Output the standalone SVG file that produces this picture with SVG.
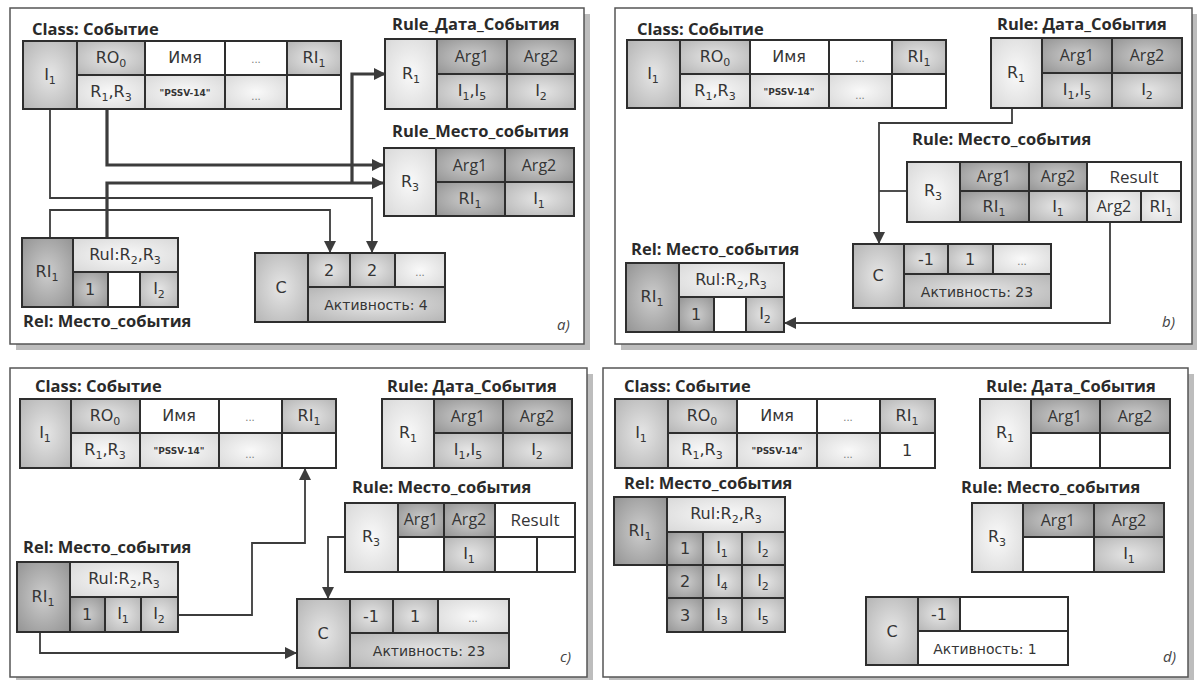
<svg xmlns="http://www.w3.org/2000/svg" width="1197" height="680" viewBox="0 0 1197 680">
<defs>
<radialGradient id="gD" cx="50%" cy="50%" r="70%"><stop offset="0" stop-color="#cdcdcd"/><stop offset="1" stop-color="#939393"/></radialGradient>
<radialGradient id="gM" cx="50%" cy="50%" r="70%"><stop offset="0" stop-color="#e6e6e6"/><stop offset="1" stop-color="#b4b4b4"/></radialGradient>
<radialGradient id="gL" cx="50%" cy="50%" r="70%"><stop offset="0" stop-color="#f9f9f9"/><stop offset="1" stop-color="#d8d8d8"/></radialGradient>
<marker id="ar" markerUnits="userSpaceOnUse" markerWidth="12" markerHeight="12" refX="11" refY="6" orient="auto"><path d="M0,0 L12,6 L0,12 z" fill="#3c3c3c"/></marker>
<style>
.pn{fill:#fff;stroke:#555;stroke-width:1.5}
.sh{fill:#bdbdbd}
.k{stroke:#2e2e2e;stroke-width:2}
.w{fill:#fff}.d{fill:url(#gD)}.m{fill:url(#gM)}.l{fill:url(#gL)}
text{font-family:"DejaVu Sans","Liberation Sans",sans-serif;fill:#353535}
.t{font-size:16px;text-anchor:middle}
.g{font-family:"Open Sans","Liberation Sans",sans-serif;font-size:16px;text-anchor:middle}
.s{font-size:11px}
.p{font-size:9px;font-weight:bold;text-anchor:middle}
.e{font-size:10px;text-anchor:middle;fill:#777}
.h{font-family:"Open Sans","Liberation Sans",sans-serif;font-size:16.5px;font-weight:bold;fill:#2a2a2a}
.q{font-family:"Open Sans","Liberation Sans",sans-serif;font-size:15px;font-style:italic;fill:#444}
.ac{font-size:14px}
.rs{font-family:"Open Sans","Liberation Sans",sans-serif;font-size:17px}
.cn path{fill:none;stroke:#3c3c3c}
.cn .tk{stroke-width:3.2}
.cn .tn{stroke-width:1.8}
</style>
</defs>
<rect width="1197" height="680" fill="#fff"/>

<!-- panel frames -->
<g id="frames">
<rect class="sh" x="16" y="14" width="574" height="336"/>
<rect class="pn" x="10" y="8" width="574" height="336"/>
<rect class="sh" x="621" y="14" width="577" height="336"/>
<rect class="pn" x="615" y="8" width="577" height="336"/>
<rect class="sh" x="16" y="374" width="577" height="309"/>
<rect class="pn" x="10" y="368" width="577" height="309"/>
<rect class="sh" x="609" y="374" width="585" height="309"/>
<rect class="pn" x="603" y="368" width="585" height="309"/>
</g>

<!-- connectors -->
<g id="connectors" class="cn">
<path class="tk" d="M107,109 V165 H383" marker-end="url(#ar)"/>
<path class="tk" d="M107,238 V183 H383" marker-end="url(#ar)"/>
<path class="tk" d="M352,183 V74 H385" marker-end="url(#ar)"/>
<path class="tn" d="M50,109 V198 H372 V252" marker-end="url(#ar)"/>
<path class="tn" d="M50,238 V210 H330 V252" marker-end="url(#ar)"/>
<path class="tn" d="M1012,108 V123 H879 V243" marker-end="url(#ar)"/>
<path class="tn" d="M907,191 H879"/>
<path class="tn" d="M1110,222 V323 H785" marker-end="url(#ar)"/>
<path class="tn" d="M178,615 H252 V543 H305 V469" marker-end="url(#ar)"/>
<path class="tn" d="M345,537 H328 V598" marker-end="url(#ar)"/>
<path class="tn" d="M40,632 V653 H296" marker-end="url(#ar)"/>
</g>

<!-- ===== Panel a ===== -->
<g id="a-class">
<text class="h" x="32" y="35">Class: Событие</text>
<rect class="k m" x="23" y="41" width="54" height="68"/>
<rect class="k m" x="77" y="41" width="68" height="34"/>
<rect class="k w" x="145" y="41" width="80" height="34"/>
<rect class="k w" x="225" y="41" width="62" height="34"/>
<rect class="k m" x="287" y="41" width="54" height="34"/>
<rect class="k l" x="77" y="75" width="68" height="34"/>
<rect class="k l" x="145" y="75" width="80" height="34"/>
<rect class="k l" x="225" y="75" width="62" height="34"/>
<rect class="k w" x="287" y="75" width="54" height="34"/>
<text class="t" x="50" y="80">I<tspan class="s" dy="4">1</tspan></text>
<text class="t" x="111" y="63">RO<tspan class="s" dy="4">0</tspan></text>
<text class="t" x="185" y="63">Имя</text>
<text class="e" x="256" y="63">...</text>
<text class="t" x="314" y="63">RI<tspan class="s" dy="4">1</tspan></text>
<text class="t" x="111" y="97">R<tspan class="s" dy="4">1</tspan><tspan dy="-4">,R</tspan><tspan class="s" dy="4">3</tspan></text>
<text class="p" x="185" y="96">"PSSV-14"</text>
<text class="e" x="256" y="100">...</text>
</g>
<g id="a-rule1">
<text class="h" x="392" y="30">Rule_Дата_События</text>
<rect class="k l" x="385" y="39" width="52" height="70"/>
<rect class="k d" x="437" y="39" width="70" height="35"/>
<rect class="k d" x="507" y="39" width="68" height="35"/>
<rect class="k m" x="437" y="74" width="70" height="35"/>
<rect class="k m" x="507" y="74" width="68" height="35"/>
<text class="t" x="411" y="79">R<tspan class="s" dy="4">1</tspan></text>
<text class="g" x="472" y="62">Arg1</text>
<text class="g" x="541" y="62">Arg2</text>
<text class="t" x="472" y="96">I<tspan class="s" dy="4">1</tspan><tspan dy="-4">,I</tspan><tspan class="s" dy="4">5</tspan></text>
<text class="t" x="541" y="96">I<tspan class="s" dy="4">2</tspan></text>
</g>
<g id="a-rule3">
<text class="h" x="392" y="137">Rule_Место_события</text>
<rect class="k l" x="384" y="148" width="52" height="68"/>
<rect class="k d" x="436" y="148" width="69" height="34"/>
<rect class="k d" x="505" y="148" width="69" height="34"/>
<rect class="k d" x="436" y="182" width="69" height="34"/>
<rect class="k m" x="505" y="182" width="69" height="34"/>
<text class="t" x="410" y="187">R<tspan class="s" dy="4">3</tspan></text>
<text class="g" x="470" y="171">Arg1</text>
<text class="g" x="539" y="171">Arg2</text>
<text class="t" x="470" y="204">RI<tspan class="s" dy="4">1</tspan></text>
<text class="t" x="539" y="204">I<tspan class="s" dy="4">1</tspan></text>
</g>
<g id="a-rel">
<rect class="k d" x="22" y="238" width="51" height="69"/>
<rect class="k l" x="73" y="238" width="105" height="34"/>
<rect class="k d" x="73" y="272" width="35" height="35"/>
<rect class="k w" x="108" y="272" width="32" height="35"/>
<rect class="k m" x="140" y="272" width="38" height="35"/>
<text class="t" x="47" y="277">RI<tspan class="s" dy="4">1</tspan></text>
<text class="t" x="125" y="260">Rul:R<tspan class="s" dy="4">2</tspan><tspan dy="-4">,R</tspan><tspan class="s" dy="4">3</tspan></text>
<text class="t" x="90" y="295">1</text>
<text class="t" x="159" y="294">I<tspan class="s" dy="4">2</tspan></text>
<text class="h" x="23" y="327">Rel: Место_события</text>
</g>
<g id="a-c">
<rect class="k m" x="255" y="253" width="53" height="69"/>
<rect class="k m" x="308" y="253" width="42" height="34"/>
<rect class="k m" x="350" y="253" width="45" height="34"/>
<rect class="k l" x="395" y="253" width="50" height="34"/>
<rect class="k m" x="308" y="287" width="137" height="35"/>
<text class="t" x="281" y="293">C</text>
<text class="t" x="329" y="276">2</text>
<text class="t" x="372" y="276">2</text>
<text class="e" x="420" y="276">...</text>
<text class="t ac" x="376" y="310">Активность: 4</text>
<text class="q" x="557" y="330">a)</text>
</g>

<!-- ===== Panel b ===== -->
<g id="b-class">
<text class="h" x="637" y="35">Class: Событие</text>
<rect class="k m" x="627" y="40" width="53" height="68"/>
<rect class="k m" x="680" y="40" width="70" height="34"/>
<rect class="k w" x="750" y="40" width="79" height="34"/>
<rect class="k w" x="829" y="40" width="63" height="34"/>
<rect class="k m" x="892" y="40" width="54" height="34"/>
<rect class="k l" x="680" y="74" width="70" height="34"/>
<rect class="k l" x="750" y="74" width="79" height="34"/>
<rect class="k l" x="829" y="74" width="63" height="34"/>
<rect class="k w" x="892" y="74" width="54" height="34"/>
<text class="t" x="653" y="79">I<tspan class="s" dy="4">1</tspan></text>
<text class="t" x="715" y="62">RO<tspan class="s" dy="4">0</tspan></text>
<text class="t" x="789" y="62">Имя</text>
<text class="e" x="860" y="62">...</text>
<text class="t" x="919" y="62">RI<tspan class="s" dy="4">1</tspan></text>
<text class="t" x="715" y="96">R<tspan class="s" dy="4">1</tspan><tspan dy="-4">,R</tspan><tspan class="s" dy="4">3</tspan></text>
<text class="p" x="789" y="95">"PSSV-14"</text>
<text class="e" x="860" y="99">...</text>
</g>
<g id="b-rule1">
<text class="h" x="997" y="30">Rule: Дата_События</text>
<rect class="k l" x="991" y="38" width="51" height="70"/>
<rect class="k d" x="1042" y="38" width="70" height="35"/>
<rect class="k d" x="1112" y="38" width="70" height="35"/>
<rect class="k m" x="1042" y="73" width="70" height="35"/>
<rect class="k m" x="1112" y="73" width="70" height="35"/>
<text class="t" x="1016" y="78">R<tspan class="s" dy="4">1</tspan></text>
<text class="g" x="1077" y="61">Arg1</text>
<text class="g" x="1147" y="61">Arg2</text>
<text class="t" x="1077" y="95">I<tspan class="s" dy="4">1</tspan><tspan dy="-4">,I</tspan><tspan class="s" dy="4">5</tspan></text>
<text class="t" x="1147" y="95">I<tspan class="s" dy="4">2</tspan></text>
</g>
<g id="b-rule3">
<text class="h" x="912" y="145">Rule: Место_события</text>
<rect class="k l" x="907" y="162" width="53" height="60"/>
<rect class="k d" x="960" y="162" width="69" height="29"/>
<rect class="k d" x="1029" y="162" width="58" height="29"/>
<rect class="k w" x="1087" y="162" width="94" height="29"/>
<rect class="k d" x="960" y="191" width="69" height="31"/>
<rect class="k m" x="1029" y="191" width="58" height="31"/>
<rect class="k l" x="1087" y="191" width="54" height="31"/>
<rect class="k l" x="1141" y="191" width="40" height="31"/>
<text class="t" x="933" y="196">R<tspan class="s" dy="4">3</tspan></text>
<text class="g" x="994" y="182">Arg1</text>
<text class="g" x="1058" y="182">Arg2</text>
<text class="g rs" x="1134" y="183">Result</text>
<text class="t" x="994" y="212">RI<tspan class="s" dy="4">1</tspan></text>
<text class="t" x="1058" y="212">I<tspan class="s" dy="4">1</tspan></text>
<text class="g" x="1114" y="212">Arg2</text>
<text class="t" x="1161" y="212">RI<tspan class="s" dy="4">1</tspan></text>
</g>
<g id="b-rel">
<text class="h" x="631" y="255">Rel: Место_события</text>
<rect class="k d" x="626" y="263" width="53" height="69"/>
<rect class="k l" x="679" y="263" width="105" height="34"/>
<rect class="k d" x="679" y="297" width="35" height="35"/>
<rect class="k w" x="714" y="297" width="32" height="35"/>
<rect class="k m" x="746" y="297" width="38" height="35"/>
<text class="t" x="652" y="302">RI<tspan class="s" dy="4">1</tspan></text>
<text class="t" x="731" y="285">Rul:R<tspan class="s" dy="4">2</tspan><tspan dy="-4">,R</tspan><tspan class="s" dy="4">3</tspan></text>
<text class="t" x="696" y="320">1</text>
<text class="t" x="765" y="319">I<tspan class="s" dy="4">2</tspan></text>
</g>
<g id="b-c">
<rect class="k m" x="853" y="244" width="51" height="64"/>
<rect class="k m" x="904" y="244" width="44" height="30"/>
<rect class="k m" x="948" y="244" width="45" height="30"/>
<rect class="k l" x="993" y="244" width="58" height="30"/>
<rect class="k m" x="904" y="274" width="147" height="34"/>
<text class="t" x="878" y="281">C</text>
<text class="t" x="926" y="265">-1</text>
<text class="t" x="970" y="265">1</text>
<text class="e" x="1022" y="265">...</text>
<text class="t ac" x="977" y="297">Активность: 23</text>
<text class="q" x="1162" y="327">b)</text>
</g>

<!-- ===== Panel c ===== -->
<g id="c-class">
<text class="h" x="35" y="392">Class: Событие</text>
<rect class="k m" x="20" y="399" width="51" height="69"/>
<rect class="k m" x="71" y="399" width="69" height="34"/>
<rect class="k w" x="140" y="399" width="79" height="34"/>
<rect class="k w" x="219" y="399" width="63" height="34"/>
<rect class="k m" x="282" y="399" width="54" height="34"/>
<rect class="k l" x="71" y="433" width="69" height="35"/>
<rect class="k l" x="140" y="433" width="79" height="35"/>
<rect class="k l" x="219" y="433" width="63" height="35"/>
<rect class="k w" x="282" y="433" width="54" height="35"/>
<text class="t" x="45" y="438">I<tspan class="s" dy="4">1</tspan></text>
<text class="t" x="105" y="421">RO<tspan class="s" dy="4">0</tspan></text>
<text class="t" x="179" y="421">Имя</text>
<text class="e" x="250" y="421">...</text>
<text class="t" x="309" y="421">RI<tspan class="s" dy="4">1</tspan></text>
<text class="t" x="105" y="455">R<tspan class="s" dy="4">1</tspan><tspan dy="-4">,R</tspan><tspan class="s" dy="4">3</tspan></text>
<text class="p" x="179" y="454">"PSSV-14"</text>
<text class="e" x="250" y="458">...</text>
</g>
<g id="c-rule1">
<text class="h" x="387" y="392">Rule: Дата_События</text>
<rect class="k l" x="382" y="399" width="52" height="69"/>
<rect class="k d" x="434" y="399" width="69" height="34"/>
<rect class="k d" x="503" y="399" width="69" height="34"/>
<rect class="k m" x="434" y="433" width="69" height="35"/>
<rect class="k m" x="503" y="433" width="69" height="35"/>
<text class="t" x="408" y="438">R<tspan class="s" dy="4">1</tspan></text>
<text class="g" x="468" y="422">Arg1</text>
<text class="g" x="537" y="422">Arg2</text>
<text class="t" x="468" y="455">I<tspan class="s" dy="4">1</tspan><tspan dy="-4">,I</tspan><tspan class="s" dy="4">5</tspan></text>
<text class="t" x="537" y="455">I<tspan class="s" dy="4">2</tspan></text>
</g>
<g id="c-rule3">
<text class="h" x="352" y="493">Rule: Место_события</text>
<rect class="k l" x="345" y="503" width="53" height="69"/>
<rect class="k d" x="398" y="503" width="46" height="34"/>
<rect class="k d" x="444" y="503" width="51" height="34"/>
<rect class="k w" x="495" y="503" width="80" height="34"/>
<rect class="k w" x="398" y="537" width="46" height="35"/>
<rect class="k m" x="444" y="537" width="51" height="35"/>
<rect class="k w" x="495" y="537" width="42" height="35"/>
<rect class="k w" x="537" y="537" width="38" height="35"/>
<text class="t" x="371" y="542">R<tspan class="s" dy="4">3</tspan></text>
<text class="g" x="421" y="525" font-size="14">Arg1</text>
<text class="g" x="469" y="525" font-size="14">Arg2</text>
<text class="g rs" x="535" y="526">Result</text>
<text class="t" x="469" y="559">I<tspan class="s" dy="4">1</tspan></text>
</g>
<g id="c-rel">
<text class="h" x="23" y="553">Rel: Место_события</text>
<rect class="k d" x="17" y="562" width="53" height="70"/>
<rect class="k l" x="70" y="562" width="108" height="35"/>
<rect class="k d" x="70" y="597" width="35" height="35"/>
<rect class="k m" x="105" y="597" width="36" height="35"/>
<rect class="k m" x="141" y="597" width="37" height="35"/>
<text class="t" x="43" y="602">RI<tspan class="s" dy="4">1</tspan></text>
<text class="t" x="124" y="584">Rul:R<tspan class="s" dy="4">2</tspan><tspan dy="-4">,R</tspan><tspan class="s" dy="4">3</tspan></text>
<text class="t" x="87" y="620">1</text>
<text class="t" x="123" y="619">I<tspan class="s" dy="4">1</tspan></text>
<text class="t" x="159" y="619">I<tspan class="s" dy="4">2</tspan></text>
</g>
<g id="c-c">
<rect class="k m" x="297" y="599" width="53" height="69"/>
<rect class="k m" x="350" y="599" width="43" height="34"/>
<rect class="k m" x="393" y="599" width="45" height="34"/>
<rect class="k l" x="438" y="599" width="71" height="34"/>
<rect class="k m" x="350" y="633" width="159" height="35"/>
<text class="t" x="323" y="639">C</text>
<text class="t" x="371" y="622">-1</text>
<text class="t" x="415" y="622">1</text>
<text class="e" x="473" y="622">...</text>
<text class="t ac" x="429" y="656">Активность: 23</text>
<text class="q" x="560" y="662">c)</text>
</g>

<!-- ===== Panel d ===== -->
<g id="d-class">
<text class="h" x="624" y="392">Class: Событие</text>
<rect class="k m" x="615" y="399" width="53" height="69"/>
<rect class="k m" x="668" y="399" width="69" height="34"/>
<rect class="k w" x="737" y="399" width="80" height="34"/>
<rect class="k w" x="817" y="399" width="63" height="34"/>
<rect class="k m" x="880" y="399" width="55" height="34"/>
<rect class="k l" x="668" y="433" width="69" height="35"/>
<rect class="k l" x="737" y="433" width="80" height="35"/>
<rect class="k l" x="817" y="433" width="63" height="35"/>
<rect class="k w" x="880" y="433" width="55" height="35"/>
<text class="t" x="641" y="438">I<tspan class="s" dy="4">1</tspan></text>
<text class="t" x="702" y="421">RO<tspan class="s" dy="4">0</tspan></text>
<text class="t" x="777" y="421">Имя</text>
<text class="e" x="848" y="421">...</text>
<text class="t" x="907" y="421">RI<tspan class="s" dy="4">1</tspan></text>
<text class="t" x="702" y="455">R<tspan class="s" dy="4">1</tspan><tspan dy="-4">,R</tspan><tspan class="s" dy="4">3</tspan></text>
<text class="p" x="777" y="454">"PSSV-14"</text>
<text class="e" x="848" y="458">...</text>
<text class="t" x="907" y="456">1</text>
</g>
<g id="d-rule1">
<text class="h" x="986" y="392">Rule: Дата_События</text>
<rect class="k l" x="980" y="399" width="51" height="69"/>
<rect class="k d" x="1031" y="399" width="69" height="34"/>
<rect class="k d" x="1100" y="399" width="70" height="34"/>
<rect class="k w" x="1031" y="433" width="69" height="35"/>
<rect class="k w" x="1100" y="433" width="70" height="35"/>
<text class="t" x="1005" y="438">R<tspan class="s" dy="4">1</tspan></text>
<text class="g" x="1065" y="422">Arg1</text>
<text class="g" x="1135" y="422">Arg2</text>
</g>
<g id="d-rule3">
<text class="h" x="961" y="493">Rule: Место_события</text>
<rect class="k l" x="972" y="503" width="51" height="69"/>
<rect class="k d" x="1023" y="503" width="71" height="34"/>
<rect class="k d" x="1094" y="503" width="70" height="34"/>
<rect class="k w" x="1023" y="537" width="71" height="35"/>
<rect class="k m" x="1094" y="537" width="70" height="35"/>
<text class="t" x="997" y="542">R<tspan class="s" dy="4">3</tspan></text>
<text class="g" x="1058" y="526">Arg1</text>
<text class="g" x="1129" y="526">Arg2</text>
<text class="t" x="1129" y="559">I<tspan class="s" dy="4">1</tspan></text>
</g>
<g id="d-rel">
<text class="h" x="624" y="489">Rel: Место_события</text>
<rect class="k d" x="614" y="497" width="53" height="68"/>
<rect class="k l" x="667" y="497" width="118" height="35"/>
<rect class="k d" x="667" y="532" width="36" height="33"/>
<rect class="k m" x="703" y="532" width="39" height="33"/>
<rect class="k m" x="742" y="532" width="43" height="33"/>
<rect class="k d" x="667" y="565" width="36" height="33"/>
<rect class="k m" x="703" y="565" width="39" height="33"/>
<rect class="k m" x="742" y="565" width="43" height="33"/>
<rect class="k d" x="667" y="598" width="36" height="34"/>
<rect class="k m" x="703" y="598" width="39" height="34"/>
<rect class="k m" x="742" y="598" width="43" height="34"/>
<text class="t" x="640" y="536">RI<tspan class="s" dy="4">1</tspan></text>
<text class="t" x="726" y="519">Rul:R<tspan class="s" dy="4">2</tspan><tspan dy="-4">,R</tspan><tspan class="s" dy="4">3</tspan></text>
<text class="t" x="685" y="554">1</text>
<text class="t" x="722" y="553">I<tspan class="s" dy="4">1</tspan></text>
<text class="t" x="763" y="553">I<tspan class="s" dy="4">2</tspan></text>
<text class="t" x="685" y="587">2</text>
<text class="t" x="722" y="586">I<tspan class="s" dy="4">4</tspan></text>
<text class="t" x="763" y="586">I<tspan class="s" dy="4">2</tspan></text>
<text class="t" x="685" y="621">3</text>
<text class="t" x="722" y="620">I<tspan class="s" dy="4">3</tspan></text>
<text class="t" x="763" y="620">I<tspan class="s" dy="4">5</tspan></text>
</g>
<g id="d-c">
<rect class="k m" x="866" y="597" width="52" height="68"/>
<rect class="k m" x="918" y="597" width="42" height="34"/>
<rect class="k w" x="960" y="597" width="108" height="34"/>
<rect class="k w" x="918" y="631" width="150" height="34"/>
<text class="t" x="892" y="637">C</text>
<text class="t" x="939" y="620">-1</text>
<text class="t ac" x="985" y="654">Активность: 1</text>
<text class="q" x="1163" y="662">d)</text>
</g>
</svg>
